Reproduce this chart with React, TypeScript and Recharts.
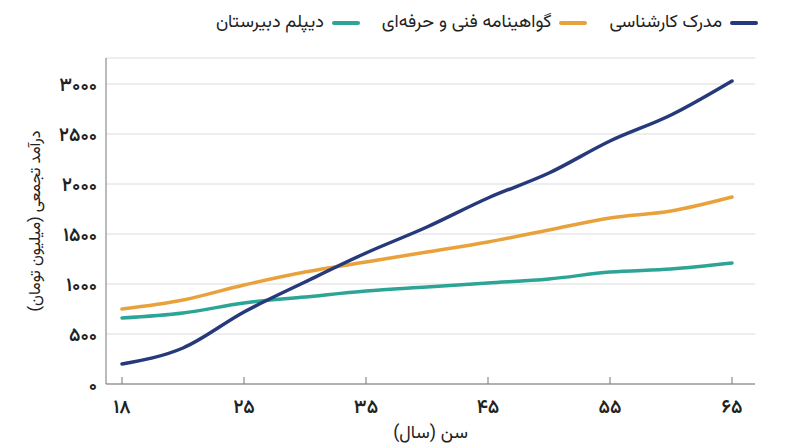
import { CartesianGrid, Line, LineChart, XAxis, YAxis } from "recharts";

document.body.style.margin = "0";

const ages = [18, 20, 25, 30, 35, 40, 45, 50, 55, 60, 65];
const bachelor = [200, 360, 720, 1020, 1310, 1570, 1860, 2110, 2430, 2690, 3030];
const vocational = [750, 840, 990, 1120, 1220, 1320, 1420, 1540, 1660, 1730, 1870];
const diploma = [660, 710, 810, 870, 930, 970, 1010, 1050, 1120, 1150, 1210];
const yTicks = [0, 500, 1000, 1500, 2000, 2500, 3000];

const series = [
  { key: "bachelor", name: "مدرک کارشناسی", color: "#26397a" },
  { key: "vocational", name: "گواهینامه فنی و حرفه‌ای", color: "#e9a23b" },
  { key: "diploma", name: "دیپلم دبیرستان", color: "#2ca597" },
];

const data = ages.map((age, i) => ({
  age,
  bachelor: bachelor[i],
  vocational: vocational[i],
  diploma: diploma[i],
}));

const FONT = "Vazirmatn, 'Noto Sans Arabic', 'DejaVu Sans', sans-serif";

// latin digits -> persian digits
const toFa = (v: number | string) =>
  String(v).replace(/[0-9]/g, (d) => "۰۱۲۳۴۵۶۷۸۹"[Number(d)]);

const XTick = ({ x, y, payload }: any) => (
  <g>
    <line x1={x} x2={x} y1={y - 7} y2={y} stroke="#777" strokeWidth={1} />
    <text
      x={x}
      y={y + 29}
      textAnchor="middle"
      fontSize={19}
      fontWeight={600}
      fill="#222"
      fontFamily={FONT}
    >
      {toFa(payload.value)}
    </text>
  </g>
);

const YLabel = ({ viewBox }: any) => {
  const cy = viewBox.y + viewBox.height / 2;
  return (
    <text
      x={36}
      y={cy}
      transform={`rotate(-90, 36, ${cy})`}
      textAnchor="middle"
      dominantBaseline="central"
      fontSize={16}
      fill="#222"
      fontFamily={FONT}
    >
      درآمد تجمعی (میلیون تومان)
    </text>
  );
};

export default function App() {
  return (
    <div style={{ position: "relative", width: 800, height: 447, background: "#fff" }}>
      <div
        style={{
          position: "absolute",
          top: 9,
          right: 42,
          display: "flex",
          direction: "rtl",
          gap: 22,
          fontFamily: FONT,
          fontSize: 18,
          color: "#222",
          zIndex: 1,
        }}
      >
        {series.map((s) => (
          <div key={s.key} style={{ display: "flex", alignItems: "center", gap: 8 }}>
            <span
              style={{
                width: 28,
                height: 4,
                borderRadius: 2,
                background: s.color,
                display: "inline-block",
              }}
            />
            <span>{s.name}</span>
          </div>
        ))}
      </div>
      <LineChart
        width={800}
        height={447}
        data={data}
        margin={{ top: 58, right: 45, bottom: 0, left: 0 }}
      >
        <CartesianGrid vertical={false} stroke="#dcdcdc" />
        <XAxis
          dataKey="age"
          interval={1}
          height={63}
          stroke="#777"
          tickLine={false}
          tickSize={0}
          tickMargin={0}
          tick={<XTick />}
          padding={{ left: 16, right: 23 }}
          label={{
            value: "سن (سال)",
            position: "insideBottom",
            offset: 9,
            fontSize: 18,
            fill: "#222",
            fontFamily: FONT,
          }}
        />
        <YAxis
          width={106}
          domain={[0, 3260]}
          ticks={yTicks}
          stroke="#777"
          tickLine={false}
          tickSize={0}
          tickMargin={9}
          tickFormatter={toFa}
          tick={{ fontSize: 19, fontWeight: 600, fill: "#222", fontFamily: FONT }}
          label={<YLabel />}
        />
        {[...series].reverse().map((s) => (
          <Line
            key={s.key}
            type="monotone"
            dataKey={s.key}
            name={s.name}
            stroke={s.color}
            strokeWidth={3.5}
            strokeLinecap="round"
            dot={false}
            isAnimationActive={false}
          />
        ))}
      </LineChart>
    </div>
  );
}
